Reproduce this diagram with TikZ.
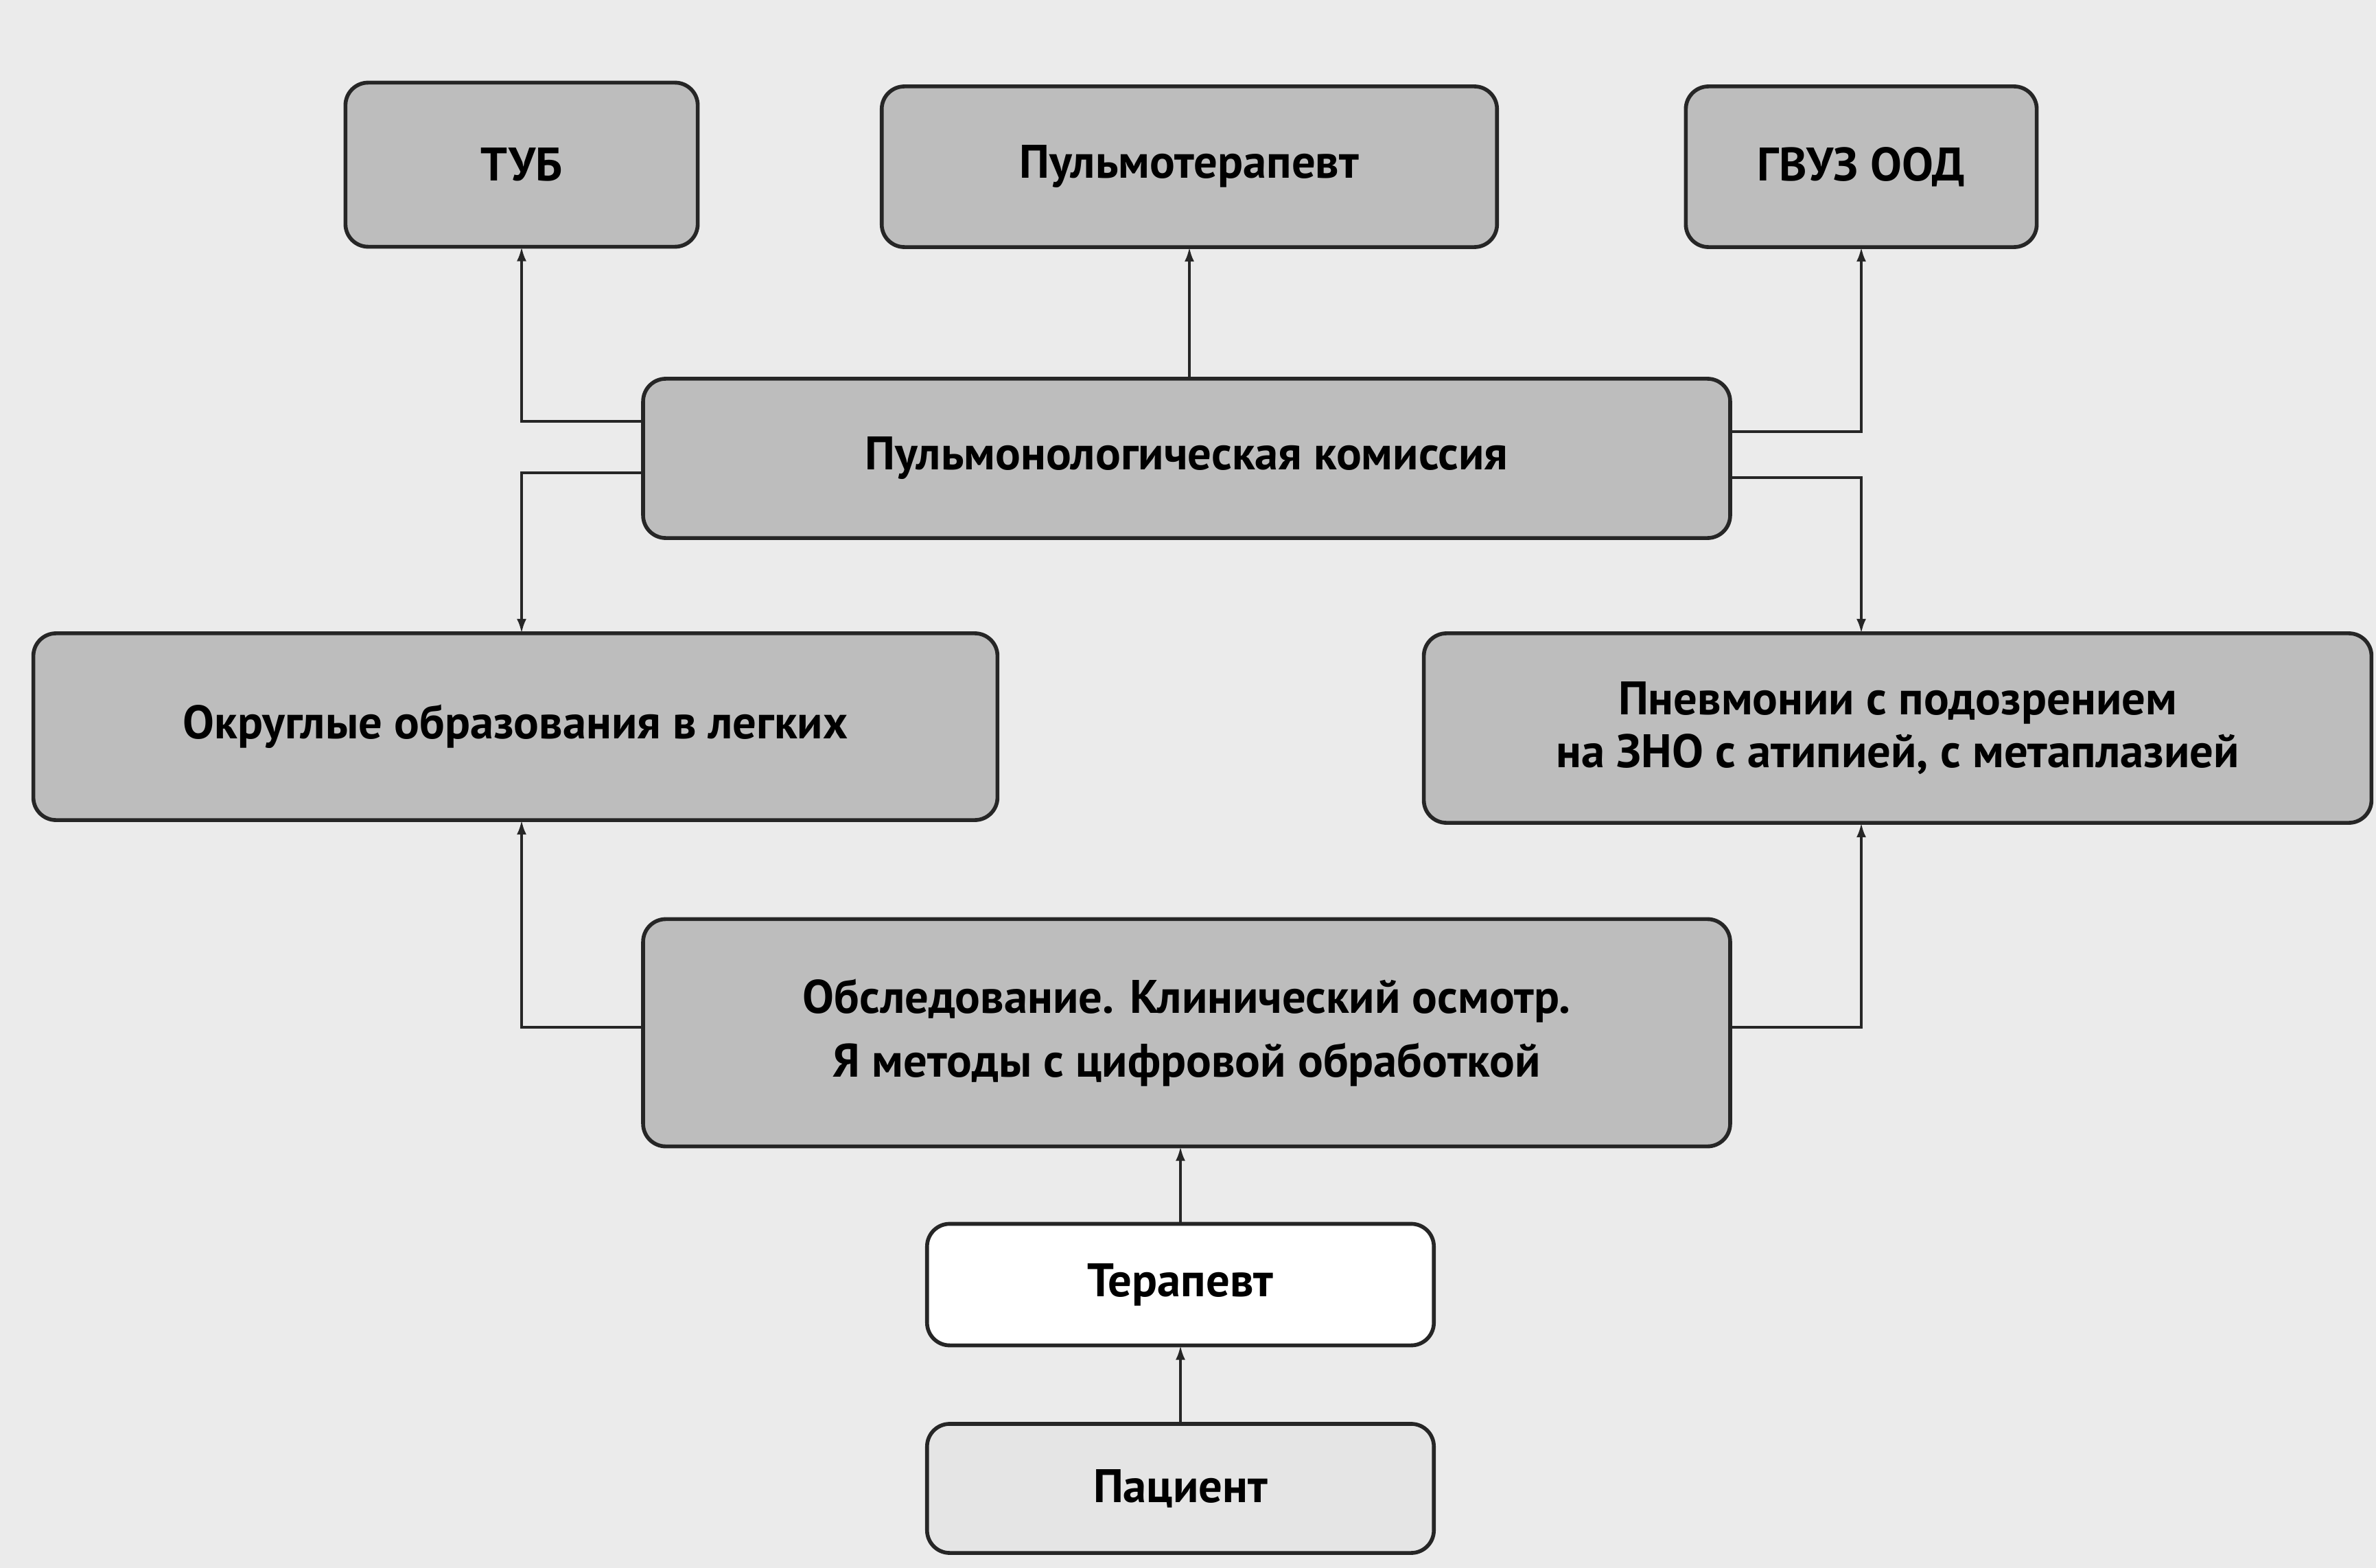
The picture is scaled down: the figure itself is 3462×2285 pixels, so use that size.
\documentclass[tikz,border=0pt]{standalone}
\usepackage{fontspec}
\setmainfont{PT Sans}
\usetikzlibrary{arrows.meta,calc}
\definecolor{paper}{gray}{0.92}
\definecolor{boxgray}{gray}{0.74}
\definecolor{boxlight}{gray}{0.90}
\begin{document}
\begin{tikzpicture}[x=0.01cm,y=-0.01cm,
  box/.style={draw=black!85,line width=1.6pt,rounded corners=0.33cm,fill=boxgray,
    inner sep=0pt,outer sep=0pt,align=center,font=\fontsize{19.5}{26.5}\selectfont\bfseries},
  tight/.style={font=\fontsize{19.5}{22}\selectfont\bfseries},
  conn/.style={draw=black!85,line width=1.1pt,-{Latex[length=6pt,width=4pt]}}]
  % page
  \fill[paper] (0,0) rectangle (3462,2285);
  \useasboundingbox (0,0) rectangle (3462,2285);
  % upper row
  \node[box,minimum width=5.13cm,minimum height=2.39cm] (tub) at (760,240) {ТУБ};
  \node[box,minimum width=8.96cm,minimum height=2.34cm] (pter) at (1733,243) {Пульмотерапевт};
  \node[box,minimum width=5.11cm,minimum height=2.34cm] (gvuz) at (2712,243) {ГВУЗ ООД};
  % commission
  \node[box,minimum width=15.83cm,minimum height=2.32cm] (kom) at (1729,668) {Пульмонологическая комиссия};
  % findings
  \node[box,minimum width=14.04cm,minimum height=2.72cm] (okr) at (751,1059) {Округлые образования в легких};
  \node[box,tight,minimum width=13.80cm,minimum height=2.76cm] (pnev) at (2765,1061) {Пневмонии с подозрением\\на ЗНО с атипией, с метаплазией};
  % examination
  \node[box,minimum width=15.83cm,minimum height=3.31cm] (obs) at (1729,1505) {Обследование. Клинический осмотр.\\Я методы с цифровой обработкой};
  % entry
  \node[box,fill=white,minimum width=7.38cm,minimum height=1.77cm] (ter) at (1720,1872) {Терапевт};
  \node[box,fill=boxlight,minimum width=7.38cm,minimum height=1.88cm] (pac) at (1720,2169) {Пациент};

  % connectors
  \draw[conn] (pac.north) -- (ter.south);
  \draw[conn] (ter.north) -- (obs.south -| ter.north);
  \draw[conn] (kom.north -| pter.south) -- (pter.south);
  \draw[conn] ($(kom.west)+(0,-54)$) -| (tub.south);
  \draw[conn] ($(kom.west)+(0,21)$) -| (okr.north -| tub.south);
  \draw[conn] ($(kom.east)+(0,-39)$) -| (gvuz.south);
  \draw[conn] ($(kom.east)+(0,28)$) -| (pnev.north -| gvuz.south);
  \draw[conn] ($(obs.west)+(0,-8)$) -| (okr.south -| tub.south);
  \draw[conn] ($(obs.east)+(0,-8)$) -| (pnev.south -| gvuz.south);
\end{tikzpicture}
\end{document}
